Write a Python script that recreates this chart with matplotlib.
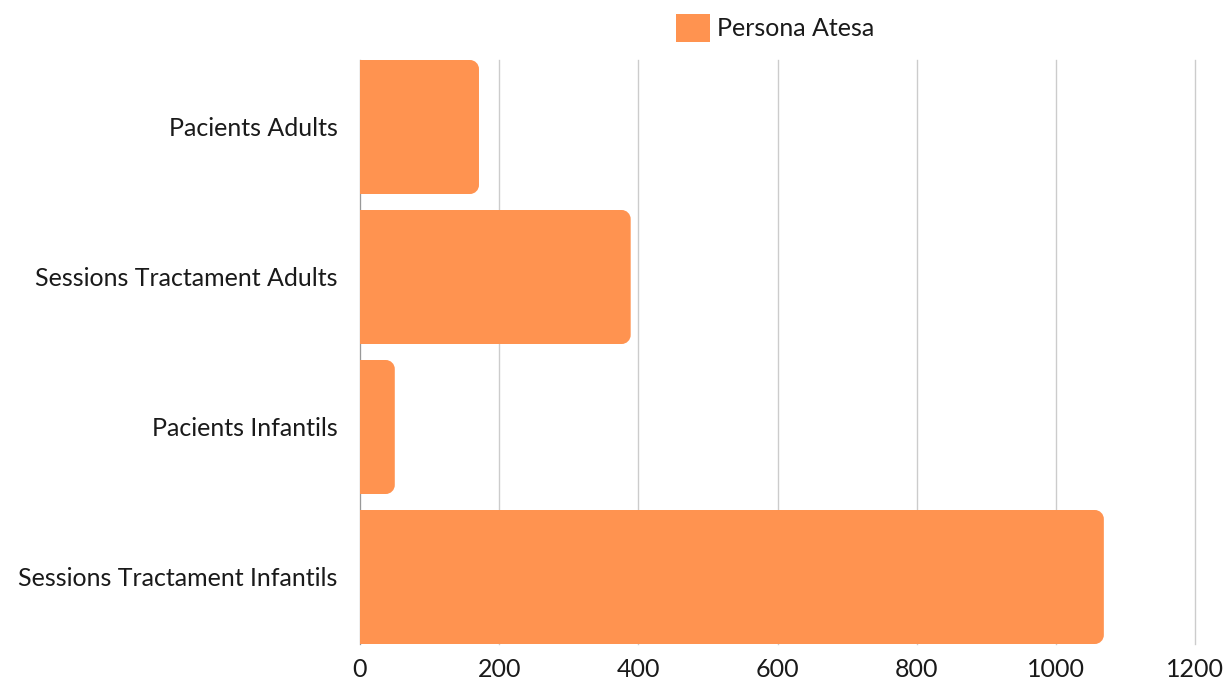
import matplotlib.pyplot as plt
from matplotlib.path import Path
from matplotlib.patches import PathPatch, Patch

categories = ['Pacients Adults', 'Sessions Tractament Adults',
              'Pacients Infantils', 'Sessions Tractament Infantils']
values = [171, 389, 50, 1069]
series_name = 'Persona Atesa'
xticks = [0, 200, 400, 600, 800, 1000, 1200]

color = '#FF9350'
text_color = '#1a1a1a'
plt.rcParams['font.family'] = ['Lato', 'DejaVu Sans']
plt.rcParams['font.weight'] = 'normal'

fig = plt.figure(figsize=(12.29, 6.84), dpi=100)
ax = fig.add_axes([360 / 1229, 40 / 684, 835 / 1229, 584 / 684])

height = 134 / 150
bars = ax.barh(range(len(categories)), values, height=height, color=color)

ax.set_xlim(0, 1200)
ax.set_ylim(len(categories) - 0.5 - (1 - height) / 2, -0.5 + (1 - height) / 2)

# rounded right corners, radius in pixels converted to data units
rx = 9 * 1200 / 835
ry = 9 / 150
k = 0.5523
for b in bars:
    x0, y0 = b.get_x(), b.get_y()
    x1, y1 = x0 + b.get_width(), y0 + b.get_height()
    r_x = min(rx, (x1 - x0) / 2)
    verts = [(x0, y0), (x1 - r_x, y0),
             (x1 - r_x + k * r_x, y0), (x1, y0 + ry - k * ry), (x1, y0 + ry),
             (x1, y1 - ry),
             (x1, y1 - ry + k * ry), (x1 - r_x + k * r_x, y1), (x1 - r_x, y1),
             (x0, y1), (x0, y0)]
    codes = [Path.MOVETO, Path.LINETO,
             Path.CURVE4, Path.CURVE4, Path.CURVE4,
             Path.LINETO,
             Path.CURVE4, Path.CURVE4, Path.CURVE4,
             Path.LINETO, Path.CLOSEPOLY]
    b.set_visible(False)
    ax.add_patch(PathPatch(Path(verts, codes), facecolor=color, edgecolor='none', zorder=3))

ax.set_xticks(xticks)
ax.set_yticks(range(len(categories)))
ax.set_yticklabels(categories)
ax.grid(axis='x', color='#cccccc', linewidth=1)
for gl in ax.get_xgridlines():
    gl.set_clip_on(False)
ax.set_axisbelow(True)
for s in ['top', 'right', 'bottom']:
    ax.spines[s].set_visible(False)
ax.spines['left'].set_color('#999999')
ax.tick_params(axis='both', length=0, labelsize=18, labelcolor=text_color)
ax.tick_params(axis='y', pad=16)
ax.tick_params(axis='x', pad=10)

fig.legend(handles=[Patch(facecolor=color, label=series_name)],
           loc='center', bbox_to_anchor=(775 / 1229, 1 - 28 / 684),
           frameon=False, fontsize=18, handlelength=1.36, handleheight=1.36,
           handletextpad=0.3, labelcolor=text_color)

fig.savefig('out.png', dpi=100)
